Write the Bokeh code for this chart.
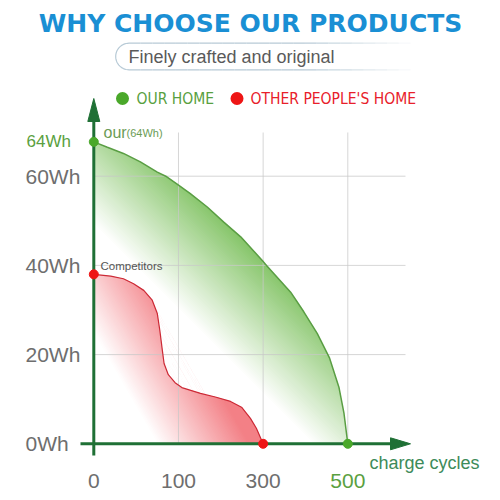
import numpy as np
from bokeh.plotting import figure
from bokeh.models import Range1d
from bokeh.embed import file_html
from bokeh.resources import INLINE
from bokeh.core.properties import value

# ---------------- data ----------------
TICK_CYCLES = [0, 100, 300, 500]
TICK_LABELS = ["0", "100", "300", "500"]
WH_TICKS = [0, 20, 40, 60]
WH_LABELS = ["0Wh", "20Wh", "40Wh", "60Wh"]

OUR_CYCLES = [0, 16, 35, 55, 75, 85, 98, 128, 168, 207, 247, 298, 308, 365, 396, 428, 457, 479, 491, 500]
OUR_WH = [67.7, 66.5, 65.1, 63.2, 60.9, 60.0, 58.3, 56.1, 53.1, 49.7, 46.4, 41.1, 40.0, 34.0, 29.6, 24.7, 19.2, 12.7, 6.8, 0.0]
OUR_START_LABEL = "64Wh"

OTHER_CYCLES = [0, 20, 35, 47, 59, 69, 75, 78, 81, 83, 88, 96, 108, 152, 187, 223, 249, 270, 284, 300]
OTHER_WH = [38.0, 37.6, 37.0, 35.9, 34.4, 32.2, 29.2, 25.4, 20.9, 18.0, 15.5, 13.7, 12.6, 11.3, 10.5, 9.5, 8.2, 5.7, 3.5, 0.0]

TITLE = "WHY CHOOSE OUR PRODUCTS"
SUBTITLE = "Finely crafted and original"
LEGEND = ["OUR HOME", "OTHER PEOPLE'S HOME"]

# ---------------- layout / style ----------------
W, H = 500, 500
X0, Y0 = 93.3, 443.3          # pixel position of the origin
PX_PER_STEP = 84.67           # pixels between x tick positions
PX_PER_WH = 4.46              # pixels per Wh
AXIS = "#1f7035"
GREEN_LINE = "#5a9e44"
RED_LINE = "#cc2a36"
GRAY = "#6e6e6e"


def step_pos(c):
    return np.interp(c, TICK_CYCLES, np.arange(len(TICK_CYCLES)))


p = figure(width=W, height=H, x_range=Range1d(0, W), y_range=Range1d(H, 0),
           x_axis_location=None, y_axis_location=None, toolbar_location=None,
           output_backend="svg", min_border=0, outline_line_color=None)
p.grid.visible = False
p.background_fill_color = "white"
p.border_fill_color = "white"
p.extra_x_ranges = {"pos": Range1d(-X0 / PX_PER_STEP, (W - X0) / PX_PER_STEP)}
p.extra_y_ranges = {"wh": Range1d(-(H - Y0) / PX_PER_WH, Y0 / PX_PER_WH)}
D = dict(x_range_name="pos", y_range_name="wh")


def clip(poly, ca, sa, c, keep_ge):
    out = []
    n = len(poly)
    for i in range(n):
        P, Q = poly[i], poly[(i + 1) % n]
        dp = P[0] * ca + P[1] * sa - c
        dq = Q[0] * ca + Q[1] * sa - c
        if not keep_ge:
            dp, dq = -dp, -dq
        if dp >= 0:
            out.append(P)
        if (dp >= 0) != (dq >= 0):
            t = dp / (dp - dq)
            out.append((P[0] + t * (Q[0] - P[0]), P[1] + t * (Q[1] - P[1])))
    return out


def gradient_bands(cycles, wh, rgb, d0, d1, angle_deg, step=1.5):
    """Linear gradient fill of the area under a curve, as overlapping colour bands."""
    dx = step_pos(cycles) * PX_PER_STEP
    dy = np.asarray(wh, float) * PX_PER_WH
    poly = [(0.0, 0.0)] + list(zip(dx, dy))
    ca, sa = np.cos(np.radians(angle_deg)), np.sin(np.radians(angle_deg))
    dvals = [q[0] * ca + q[1] * sa for q in poly]
    edges = np.arange(min(dvals), max(dvals) + step, step)
    xs, ys, cols = [], [], []
    for a, b in zip(edges[:-1], edges[1:]):
        band = clip(clip(poly, ca, sa, a, True), ca, sa, b + step, False)
        if len(band) < 3:
            continue
        t = float(np.clip(((a + b) / 2 - d0) / (d1 - d0), 0, 1))
        col = tuple(int(round(255 + (k - 255) * t)) for k in rgb)
        xs.append([q[0] / PX_PER_STEP for q in band])
        ys.append([q[1] / PX_PER_WH for q in band])
        cols.append("#%02x%02x%02x" % col)
    return xs, ys, cols


# gradient fills
gx, gy, gc = gradient_bands(OUR_CYCLES, OUR_WH, (128, 194, 98), 155, 255, 45)
p.patches(gx, gy, fill_color=gc, line_color=None, **D)
rx, ry, rc = gradient_bands(OTHER_CYCLES, OTHER_WH, (243, 128, 134), 55, 135, 30)
p.patches(rx, ry, fill_color=rc, line_color=None, **D)

# grid lines
grid_top = (Y0 - 132) / PX_PER_WH
grid_right = (405 - X0) / PX_PER_STEP
vx = step_pos(TICK_CYCLES[1:])
p.segment(x0=vx, y0=[0] * len(vx), x1=vx, y1=[grid_top] * len(vx),
          line_color="#c8c8c8", line_alpha=0.75, line_width=1, **D)
p.segment(x0=[0] * 3, y0=WH_TICKS[1:], x1=[grid_right] * 3, y1=WH_TICKS[1:],
          line_color="#c8c8c8", line_alpha=0.75, line_width=1, **D)

# curve outlines
p.line(step_pos(OUR_CYCLES), OUR_WH, line_color=GREEN_LINE, line_width=1.5, **D)
p.line(step_pos(OTHER_CYCLES), OTHER_WH, line_color=RED_LINE, line_width=1.2, **D)

# axes with arrows
p.segment(x0=[X0, 80], y0=[455, Y0], x1=[X0, 393], y1=[118, Y0],
          line_color=AXIS, line_width=3)
p.patches(xs=[[X0 - 6, X0, X0 + 6], [390, 410, 390]],
          ys=[[121, 98, 121], [Y0 - 6, Y0, Y0 + 6]],
          fill_color=AXIS, line_color=AXIS)

# end points
p.scatter(step_pos([0, OUR_CYCLES[-1]]), [OUR_WH[0], 0], size=9, marker="circle",
          fill_color="#4aa82a", line_color="#4aa82a", **D)
p.scatter(step_pos([0, OTHER_CYCLES[-1]]), [OTHER_WH[0], 0], size=9, marker="circle",
          fill_color="#ee1515", line_color="#ee1515", **D)

F = value("Liberation Sans")

# y tick labels
p.text(x=[25] * len(WH_TICKS), y=WH_TICKS, text=WH_LABELS, y_range_name="wh",
       text_font=F, text_font_size="21px", text_color=GRAY,
       text_align="left", text_baseline="middle")
p.text(x=[26], y=[OUR_WH[0]], text=[OUR_START_LABEL], y_range_name="wh",
       text_font=F, text_font_size="17px", text_color="#5aa040",
       text_align="left", text_baseline="middle")

# x tick labels
p.text(x=step_pos(TICK_CYCLES), y=[480] * 4, text=TICK_LABELS, x_range_name="pos",
       text_font=F, text_font_size="21px",
       text_color=[GRAY, GRAY, GRAY, "#5aa040"],
       text_align="center", text_baseline="middle")
p.text(x=[369], y=[462], text=["charge cycles"], text_font=F, text_font_size="18px",
       text_color="#3d8b5a", text_align="left", text_baseline="middle")

# point annotations
p.text(x=[103], y=[132], text=["our"], text_font=F, text_font_size="16px",
       text_color="#6b9c55", text_align="left", text_baseline="alphabetic")
p.text(x=[126], y=[132], text=["(64Wh)"], text_font=F, text_font_size="11px",
       text_color="#6b9c55", text_align="left", text_baseline="alphabetic")
p.text(x=[100], y=[265], text=["Competitors"], text_font=F, text_font_size="11.5px",
       text_color="#555555", text_align="left", text_baseline="middle")

# legend
p.scatter([122, 236.5], [98, 98], size=13, marker="circle",
          fill_color=["#4aa82a", "#ee1515"], line_color=None)
p.text(x=[136, 250], y=[98, 98], text=LEGEND,
       text_font=value("DejaVu Sans Condensed, Liberation Sans, sans-serif"),
       text_font_size="15.5px", text_color=["#58a040", "#e8202a"],
       text_align="left", text_baseline="middle")

# title and subtitle
p.text(x=[250], y=[23], text=[TITLE], text_font=value("DejaVu Sans"),
       text_font_style="bold", text_font_size="25px", text_color="#1a8fd4",
       text_align="center", text_baseline="middle")
cx, cy, r = 128.5, 56.0, 13.3
th = np.linspace(np.pi / 2, 3 * np.pi / 2, 30)
p.line(cx + r * np.cos(th), cy - r * np.sin(th), line_color="#b7cad6", line_width=1.2)
seg_x = np.linspace(cx, 410, 25)
seg_a = np.clip((410 - seg_x[:-1]) / 110, 0, 1)
for yy in (cy - r, cy + r):
    p.segment(x0=seg_x[:-1], y0=[yy] * 24, x1=seg_x[1:], y1=[yy] * 24,
              line_color="#b7cad6", line_alpha=seg_a, line_width=1.2)
p.text(x=[128], y=[56], text=[SUBTITLE], text_font=F, text_font_size="18px",
       text_color="#5a5a5a", text_align="left", text_baseline="middle")

open("out.html", "w").write(file_html(p, INLINE))
